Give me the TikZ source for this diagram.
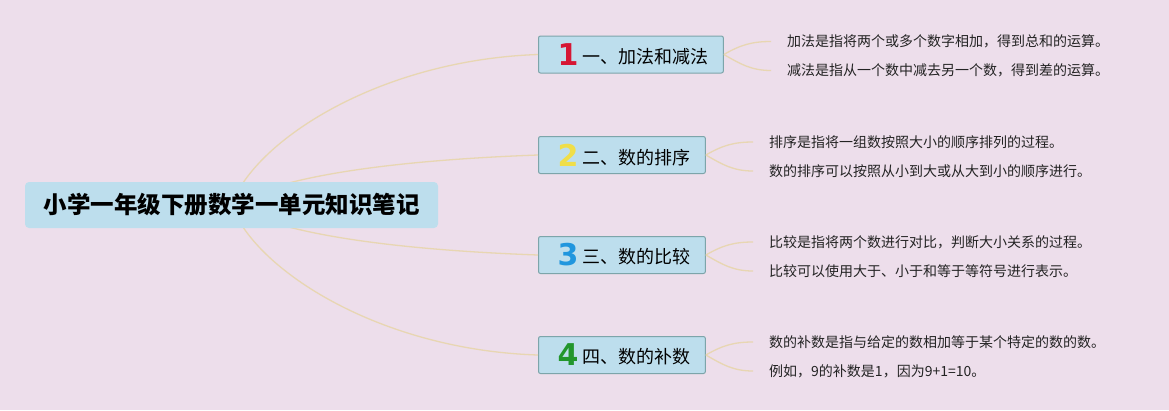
\documentclass[tikz,border=0pt]{standalone}
\usepackage{fontspec}
\setmainfont{Noto Sans CJK SC}
\newfontfamily\numfont{DejaVu Sans}
\usepackage{tikz}
\definecolor{bgpink}{RGB}{237,222,235}
\definecolor{boxblue}{RGB}{189,222,237}
\definecolor{boxedge}{RGB}{125,165,170}
\definecolor{linktan}{RGB}{232,214,178}
\definecolor{numred}{RGB}{214,22,52}
\definecolor{numyellow}{RGB}{240,222,72}
\definecolor{numblue}{RGB}{32,150,222}
\definecolor{numgreen}{RGB}{34,150,44}
\definecolor{leafgray}{RGB}{35,35,35}
\newcommand{\numtag}[2]{\raisebox{-2pt}{\numfont\bfseries\fontsize{30pt}{30pt}\selectfont\color{#1}#2}}

\begin{document}
\begin{tikzpicture}[x=1pt,y=-1pt,
  topic/.style={fill=boxblue,rounded corners=4pt,minimum width=413pt,minimum height=46pt,font=\bfseries\fontsize{23.5pt}{26pt}\selectfont},
  branch/.style={draw=boxedge,line width=1pt,fill=boxblue,rounded corners=2pt,anchor=west,minimum height=37pt,inner ysep=0pt,inner xsep=15pt,font=\fontsize{18pt}{20pt}\selectfont},
  leaf/.style={anchor=west,inner xsep=16pt,text=leafgray,font=\fontsize{14pt}{16pt}\selectfont},
  link/.style={draw=linktan,line width=1.3pt}]
  \useasboundingbox (0,0) rectangle (1169,410);
  \fill[bgpink] (0,0) rectangle (1169,410);
  \coordinate (root) at (231.5,205);
  \node[branch] (b1) at (538,54.5) {\hspace{4pt}\numtag{numred}{1}\hspace{4pt}一、加法和减法};
  \node[branch] (b2) at (538,155) {\hspace{4pt}\numtag{numyellow}{2}\hspace{4pt}二、数的排序};
  \node[branch] (b3) at (538,255) {\hspace{4pt}\numtag{numblue}{3}\hspace{4pt}三、数的比较};
  \node[branch] (b4) at (538,355) {\hspace{4pt}\numtag{numgreen}{4}\hspace{4pt}四、数的补数};
  \node[leaf] (l1-a) at (771,41.5) {加法是指将两个或多个数字相加，得到总和的运算。};
  \node[leaf] (l1-b) at (771,70.5) {减法是指从一个数中减去另一个数，得到差的运算。};
  \node[leaf] (l2-a) at (753,142) {排序是指将一组数按照大小的顺序排列的过程。};
  \node[leaf] (l2-b) at (753,171) {数的排序可以按照从小到大或从大到小的顺序进行。};
  \node[leaf] (l3-a) at (753,242) {比较是指将两个数进行对比，判断大小关系的过程。};
  \node[leaf] (l3-b) at (753,271) {比较可以使用大于、小于和等于等符号进行表示。};
  \node[leaf] (l4-a) at (753,342) {数的补数是指与给定的数相加等于某个特定的数的数。};
  \node[leaf] (l4-b) at (753,371) {例如，9的补数是1，因为9+1=10。};
  \draw[link] (root) .. controls (255,140) and (380,60) .. (b1.west);
  \draw[link] (root) .. controls (280,175) and (400,160) .. (b2.west);
  \draw[link] (root) .. controls (280,235) and (400,250) .. (b3.west);
  \draw[link] (root) .. controls (255,270) and (380,350) .. (b4.west);
  \foreach \b in {1,...,4} {
    \draw[link] (b\b.east) to[out=30,in=180] (l\b-a.west);
    \draw[link] (b\b.east) to[out=-30,in=180] (l\b-b.west);
  }
  \node[topic] (title) at (root) {小学一年级下册数学一单元知识笔记};
\end{tikzpicture}
\end{document}
